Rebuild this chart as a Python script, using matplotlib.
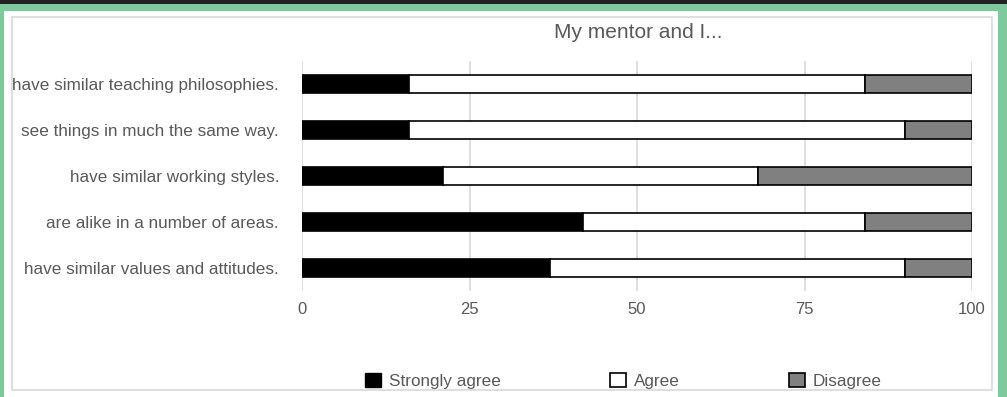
import matplotlib.pyplot as plt
from matplotlib.patches import Patch, Rectangle

plt.rcParams["font.family"] = ["Liberation Sans", "DejaVu Sans"]

# Survey responses (%), top row first
statements = [
    "have similar teaching philosophies.",
    "see things in much the same way.",
    "have similar working styles.",
    "are alike in a number of areas.",
    "have similar values and attitudes.",
]
strongly_agree = [16, 16, 21, 42, 37]
agree = [68, 74, 47, 42, 53]
disagree = [16, 10, 32, 16, 10]
ticks = [0, 25, 50, 75, 100]

W, H = 1007, 397
fig = plt.figure(figsize=(W / 100, H / 100), dpi=100)
fig.patch.set_facecolor("#7fca9c")

# white panel and grey chart border
fig.add_artist(Rectangle((4 / W, 0), 994 / W, (H - 11) / H,
                         transform=fig.transFigure, facecolor="white",
                         edgecolor="none", zorder=-3))
fig.add_artist(Rectangle((12 / W, (H - 390) / H), 980 / W, 373 / H,
                         transform=fig.transFigure, facecolor="white",
                         edgecolor="#d9d9d9", linewidth=1.2, zorder=-2))

# dark strip along the top edge
top = fig.add_axes([0, (H - 4) / H, 1, 4 / H])
top.set_facecolor("#222222")
top.set_xticks([])
top.set_yticks([])
for s in top.spines.values():
    s.set_visible(False)

ax = fig.add_axes([302 / W, (H - 291) / H, 670 / W, 230 / H])
ax.set_zorder(2)
ax.set_facecolor("none")

ypos = list(range(len(statements)))
h = 0.41
left2 = [a + b for a, b in zip(strongly_agree, agree)]
ax.barh(ypos, strongly_agree, height=h, color="black", edgecolor="black",
        linewidth=1.2, zorder=3)
ax.barh(ypos, agree, left=strongly_agree, height=h, color="white",
        edgecolor="black", linewidth=1.2, zorder=3)
ax.barh(ypos, disagree, left=left2, height=h, color="#808080",
        edgecolor="black", linewidth=1.2, zorder=3)

ax.set_xlim(0, 100)
ax.set_ylim(len(statements) - 0.5, -0.5)
ax.set_xticks(ticks)
ax.set_yticks(ypos)
ax.set_yticklabels(statements)
ax.tick_params(length=0, labelcolor="#595959")
ax.tick_params(axis="x", pad=8, labelsize=12)
ax.tick_params(axis="y", pad=16.5, labelsize=12.3)
ax.grid(axis="x", color="#d9d9d9", linewidth=1.2, zorder=0)
for s in ax.spines.values():
    s.set_visible(False)

fig.text(638 / W, 1 - 38 / H, "My mentor and I...", ha="center", va="baseline",
         fontsize=15, color="#595959")

handles = [
    Patch(facecolor="black", edgecolor="black", label="Strongly agree"),
    Patch(facecolor="white", edgecolor="black", linewidth=1.2, label="Agree"),
    Patch(facecolor="#808080", edgecolor="black", linewidth=1.2, label="Disagree"),
]
leg = fig.legend(handles=handles, loc="center left", ncol=3, frameon=False,
                 bbox_to_anchor=(365 / W, 1 - 381 / H), fontsize=12.3,
                 handlelength=0.94, handleheight=0.9, handletextpad=0.45,
                 columnspacing=6.4, borderpad=0, borderaxespad=0)
for t in leg.get_texts():
    t.set_color("#595959")

fig.savefig("out.png", dpi=100)
